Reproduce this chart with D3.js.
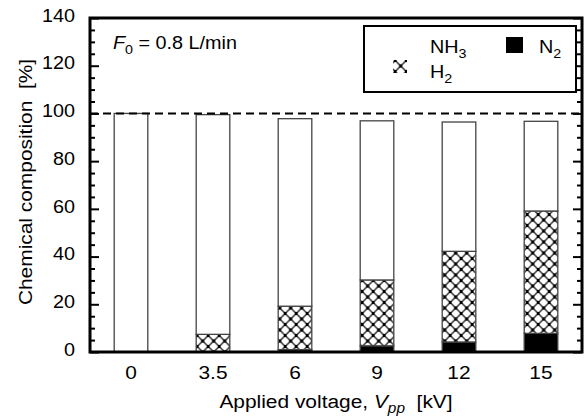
<!DOCTYPE html>
<html>
<head>
<meta charset="utf-8">
<script src="https://cdn.jsdelivr.net/npm/d3@7"></script>
<style>
  body { margin: 0; background: #fff; }
  svg text { font-family: "Liberation Sans", Arial, sans-serif; fill: #000; white-space: pre; }
</style>
</head>
<body>
<svg id="chart" width="588" height="418"></svg>
<script>
// chart data
const voltages = ['0', '3.5', '6', '9', '12', '15'];
const n2  = [0, 0, 1.0, 2.6, 4.2, 7.8];
const h2  = [0, 7.4, 18.2, 27.6, 38.0, 51.3];
const nh3 = [100, 92.1, 78.6, 66.7, 54.2, 37.6];
const yMajor = [0, 20, 40, 60, 80, 100, 120, 140];

const rows = voltages.map((v, i) => ({ v: v, n2: n2[i], h2: h2[i], nh3: nh3[i] }));

const svg = d3.select('#chart');
const plotL = 90, plotR = 582, plotT = 18, plotB = 352;
const sx = 1.1; // the reference text is a bit wide

const x = d3.scaleBand().domain(voltages).range([plotL, plotR]).paddingInner(0.59).paddingOuter(0.295);
const y = d3.scaleLinear().domain([0, 140]).range([plotB, plotT]);

// crosshatch used for H2
const defs = svg.append('defs');
const p = defs.append('pattern')
  .attr('id', 'xhatch').attr('patternUnits', 'userSpaceOnUse')
  .attr('width', 11).attr('height', 11).attr('x', x('0') + 0.5).attr('y', plotB);
p.append('rect').attr('width', 11).attr('height', 11).attr('fill', '#fff');
p.append('path').attr('d', 'M0,0L11,11M11,0L0,11').attr('stroke', '#333').attr('stroke-width', 1.5);
p.append('rect').attr('x', 4).attr('y', 4).attr('width', 3).attr('height', 3).attr('fill', '#000');
[[0, 0], [11, 0], [0, 11], [11, 11]].forEach(c => {
  p.append('rect').attr('x', c[0] - 1.5).attr('y', c[1] - 1.5).attr('width', 3).attr('height', 3).attr('fill', '#000');
});

const fills = { n2: '#000', h2: 'url(#xhatch)', nh3: '#fff' };
const stack = d3.stack().keys(['n2', 'h2', 'nh3'])(rows);

// bars
svg.append('g').selectAll('g').data(stack).join('g')
  .attr('fill', d => fills[d.key])
  .selectAll('rect').data(d => d.filter(s => s[1] - s[0] > 0)).join('rect')
  .attr('x', d => x(d.data.v))
  .attr('width', x.bandwidth())
  .attr('y', d => y(d[1]))
  .attr('height', d => y(d[0]) - y(d[1]))
  .attr('stroke', '#444')
  .attr('stroke-width', 1.3);

// 100 % reference
svg.append('line')
  .attr('x1', plotL).attr('x2', plotR).attr('y1', y(100)).attr('y2', y(100))
  .attr('stroke', '#000').attr('stroke-width', 2).attr('stroke-dasharray', '8,5');

// axes, ticks pointing inward
const minor = d3.range(0, 141, 5).filter(v => v % 20 !== 0);
svg.append('g').attr('transform', `translate(${plotL},0)`)
  .call(d3.axisLeft(y).tickValues(yMajor).tickSize(-9).tickPadding(15))
  .call(g => g.select('.domain').remove())
  .call(g => g.selectAll('line').attr('stroke-width', 2))
  .call(g => g.selectAll('text').attr('font-size', 18).attr('dy', '0.32em')
    .attr('y', -2.5).attr('x', -15 / sx).attr('transform', `scale(${sx},1)`));
svg.append('g').attr('transform', `translate(${plotL},0)`)
  .call(d3.axisLeft(y).tickValues(minor).tickSize(-5).tickFormat(''))
  .call(g => g.select('.domain').remove())
  .call(g => g.selectAll('line').attr('stroke-width', 2));
svg.append('g').attr('transform', `translate(${plotR},0)`)
  .call(d3.axisRight(y).tickValues(yMajor).tickSize(-9).tickFormat(''))
  .call(g => g.select('.domain').remove())
  .call(g => g.selectAll('line').attr('stroke-width', 2));
svg.append('g').attr('transform', `translate(${plotR},0)`)
  .call(d3.axisRight(y).tickValues(minor).tickSize(-5).tickFormat(''))
  .call(g => g.select('.domain').remove())
  .call(g => g.selectAll('line').attr('stroke-width', 2));

svg.append('g').attr('transform', `translate(0,${plotB})`)
  .call(d3.axisBottom(x).tickSize(0).tickPadding(0))
  .call(g => g.select('.domain').remove())
  .call(g => g.selectAll('text').attr('font-size', 19).attr('dy', null)
    .attr('y', 27).attr('transform', `scale(${sx},1)`));

// frame
svg.append('rect').attr('x', plotL).attr('y', plotT)
  .attr('width', plotR - plotL).attr('height', plotB - plotT)
  .attr('fill', 'none').attr('stroke', '#000').attr('stroke-width', 3);

// helper for stretched text
function label(px, py, size, anchor, rot) {
  return svg.append('text')
    .attr('transform', `translate(${px},${py})` + (rot ? ` rotate(${rot})` : '') + ` scale(${sx},1)`)
    .attr('font-size', size).attr('text-anchor', anchor);
}

// axis titles
const xt = label(336, 408, 19, 'middle');
xt.append('tspan').text('Applied voltage, ');
xt.append('tspan').attr('font-style', 'italic').text('V');
xt.append('tspan').attr('font-style', 'italic').attr('font-size', 14).attr('dy', 5).text('pp');
xt.append('tspan').attr('dy', -5).text('  [kV]');

label(32, 182, 19, 'middle', -90).text('Chemical composition  [%]');

// flow-rate note
const f0 = label(113, 49, 18, 'start');
f0.append('tspan').attr('font-style', 'italic').text('F');
f0.append('tspan').attr('font-size', 13).attr('dy', 5).text('0');
f0.append('tspan').attr('dy', -5).text(' = 0.8 L/min');

// legend
svg.append('rect').attr('x', 364).attr('y', 26).attr('width', 212).attr('height', 66)
  .attr('fill', '#fff').attr('stroke', '#000').attr('stroke-width', 2);
svg.append('rect').attr('x', 393).attr('y', 60).attr('width', 14).attr('height', 13)
  .attr('fill', 'url(#xhatch)');
svg.append('rect').attr('x', 506).attr('y', 37).attr('width', 17).attr('height', 16).attr('fill', '#000');

const l1 = label(430, 53, 18, 'start');
l1.append('tspan').text('NH');
l1.append('tspan').attr('font-size', 13).attr('dy', 5).text('3');
const l2 = label(430, 78, 18, 'start');
l2.append('tspan').text('H');
l2.append('tspan').attr('font-size', 13).attr('dy', 5).text('2');
const l3 = label(539, 53, 18, 'start');
l3.append('tspan').text('N');
l3.append('tspan').attr('font-size', 13).attr('dy', 5).text('2');
</script>
</body>
</html>
